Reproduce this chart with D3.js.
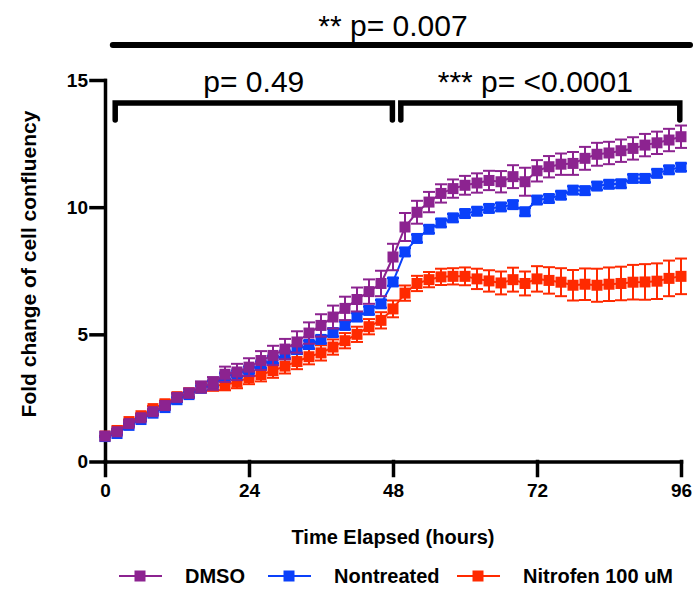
<!DOCTYPE html>
<html>
<head>
<meta charset="utf-8">
<script src="https://cdn.jsdelivr.net/npm/d3@7"></script>
<style>
  body { margin: 0; background: #fff; }
  .chart text { font-family: "Liberation Sans", Arial, Helvetica, sans-serif; }
</style>
</head>
<body>
<svg class="chart"></svg>
<script>
// Graphic dimensions
var width = 694;
var height = 590;

// hours 0..96, every 2 h
var hours = [0, 2, 4, 6, 8, 10, 12, 14, 16, 18, 20, 22, 24, 26, 28, 30, 32, 34, 36, 38, 40, 42, 44, 46, 48,
    50, 52, 54, 56, 58, 60, 62, 64, 66, 68, 70, 72, 74, 76, 78, 80, 82, 84, 86, 88, 90, 92, 94, 96];

var dmso = [1.0, 1.17, 1.49, 1.72, 1.96, 2.2, 2.52, 2.69, 2.93, 3.07, 3.43, 3.52, 3.71, 3.97, 4.17, 4.42, 4.7, 5.05, 5.35, 5.68, 6.02, 6.37, 6.68, 7.0, 8.04,
    9.22, 9.8, 10.2, 10.54, 10.73, 10.86, 10.95, 11.05, 11.0, 11.2, 11.0, 11.43, 11.59, 11.69, 11.72, 11.92, 12.08, 12.13, 12.22, 12.31, 12.44, 12.53, 12.64, 12.77];
var dmsoErr = [0, 0.05, 0.06, 0.08, 0.1, 0.12, 0.15, 0.18, 0.22, 0.25, 0.3, 0.32, 0.35, 0.37, 0.38, 0.4, 0.42, 0.42, 0.44, 0.45, 0.46, 0.47, 0.48, 0.5, 0.52,
    0.55, 0.45, 0.4, 0.36, 0.36, 0.37, 0.38, 0.38, 0.42, 0.45, 0.55, 0.42, 0.42, 0.42, 0.45, 0.45, 0.45, 0.44, 0.44, 0.44, 0.44, 0.44, 0.44, 0.44];

var nontreated = [0.98, 1.1, 1.42, 1.65, 1.9, 2.12, 2.43, 2.63, 2.88, 3.05, 3.35, 3.45, 3.6, 3.8, 4.0, 4.2, 4.4, 4.6, 4.8, 5.07, 5.35, 5.68, 5.94, 6.2, 7.06,
    8.24, 8.77, 9.13, 9.38, 9.58, 9.75, 9.84, 9.95, 10.01, 10.1, 9.82, 10.28, 10.34, 10.47, 10.67, 10.65, 10.83, 10.9, 10.92, 11.13, 11.13, 11.33, 11.47, 11.57];
var nontreatedErr = [0, 0.04, 0.05, 0.06, 0.07, 0.08, 0.09, 0.1, 0.1, 0.11, 0.12, 0.12, 0.13, 0.13, 0.14, 0.14, 0.15, 0.15, 0.15, 0.15, 0.15, 0.15, 0.15, 0.15, 0.15,
    0.15, 0.15, 0.15, 0.15, 0.15, 0.15, 0.15, 0.15, 0.15, 0.15, 0.15, 0.15, 0.15, 0.15, 0.15, 0.15, 0.15, 0.15, 0.15, 0.15, 0.15, 0.15, 0.15, 0.15];

var nitrofen = [1.0, 1.22, 1.57, 1.8, 2.08, 2.27, 2.55, 2.7, 2.9, 2.98, 3.02, 3.12, 3.3, 3.42, 3.57, 3.75, 3.93, 4.12, 4.27, 4.5, 4.75, 5.0, 5.3, 5.55, 6.0,
    6.62, 7.0, 7.15, 7.26, 7.28, 7.28, 7.18, 7.1, 7.02, 7.15, 7.0, 7.18, 7.12, 7.05, 6.93, 6.97, 6.93, 6.97, 7.0, 7.05, 7.06, 7.09, 7.2, 7.28];
var nitrofenErr = [0, 0.05, 0.06, 0.08, 0.1, 0.12, 0.14, 0.16, 0.18, 0.2, 0.22, 0.24, 0.26, 0.27, 0.28, 0.29, 0.3, 0.3, 0.3, 0.3, 0.3, 0.3, 0.3, 0.32, 0.33,
    0.3, 0.3, 0.3, 0.32, 0.32, 0.35, 0.4, 0.42, 0.45, 0.47, 0.47, 0.5, 0.52, 0.55, 0.6, 0.62, 0.65, 0.66, 0.66, 0.68, 0.7, 0.7, 0.7, 0.7];

var seriesNames = ["DMSO", "Nontreated", "Nitrofen 100 uM"];
var seriesColors = ["#8C2390", "#0A40FA", "#FF2A00"];
var xTicks = [0, 24, 48, 72, 96];
var yTicks = [0, 5, 10, 15];

// comparison brackets: [from hour, to hour, label]
var brackets = [[1.7, 47.9, "p= 0.49"], [49.3, 95.8, "*** p= <0.0001"]];
var topBracket = [1.3, 97.5, "** p= 0.007"];

var series = [
    {name: seriesNames[0], color: seriesColors[0], values: dmso, err: dmsoErr},
    {name: seriesNames[1], color: seriesColors[1], values: nontreated, err: nontreatedErr},
    {name: seriesNames[2], color: seriesColors[2], values: nitrofen, err: nitrofenErr}
];

var svg = d3.select(".chart")
    .attr("width", width)
    .attr("height", height);

var x = d3.scaleLinear().domain([0, 96]).range([105, 681]);
var y = d3.scaleLinear().domain([0, 15]).range([461.5, 80]);

// axes
var xAxis = d3.axisBottom(x).tickValues(xTicks).tickSize(14).tickSizeOuter(0).tickPadding(8);
var yAxis = d3.axisLeft(y).tickValues(yTicks).tickSize(14).tickSizeOuter(0).tickPadding(3);

var gx = svg.append("g")
    .attr("transform", "translate(0," + y(0) + ")")
    .call(xAxis);
var gy = svg.append("g")
    .attr("transform", "translate(" + x(0) + ",0)")
    .call(yAxis);

[gx, gy].forEach(function(g) {
    g.selectAll("path, line").attr("stroke", "#000").attr("stroke-width", 3.5).attr("stroke-linecap", "square");
    g.selectAll("text")
        .attr("fill", "#000")
        .style("font-size", "19px")
        .style("font-weight", "bold");
});

// axis labels
svg.append("text")
    .attr("x", 393)
    .attr("y", 544)
    .style("text-anchor", "middle")
    .style("font-size", "20px")
    .style("font-weight", "bold")
    .text("Time Elapsed (hours)");

svg.append("text")
    .attr("transform", "rotate(-90)")
    .attr("x", -264)
    .attr("y", 36)
    .style("text-anchor", "middle")
    .style("font-size", "21px")
    .style("font-weight", "bold")
    .text("Fold change of cell confluency");

// draw series back to front so DMSO sits on top
var line = d3.line()
    .x(function(d, i) { return x(hours[i]); })
    .y(function(d) { return y(d); });

var sq = 11;
var cap = 6;

series.slice().reverse().forEach(function(s) {
    var g = svg.append("g");

    g.append("path")
        .datum(s.values)
        .attr("fill", "none")
        .attr("stroke", s.color)
        .attr("stroke-width", 2)
        .attr("d", line);

    var eb = g.selectAll(".eb").data(s.values).enter().append("g");
    eb.append("line")
        .attr("x1", function(d, i) { return x(hours[i]); })
        .attr("x2", function(d, i) { return x(hours[i]); })
        .attr("y1", function(d, i) { return y(d + s.err[i]); })
        .attr("y2", function(d, i) { return y(d - s.err[i]); });
    eb.append("line")
        .attr("x1", function(d, i) { return x(hours[i]) - cap; })
        .attr("x2", function(d, i) { return x(hours[i]) + cap; })
        .attr("y1", function(d, i) { return y(d + s.err[i]); })
        .attr("y2", function(d, i) { return y(d + s.err[i]); });
    eb.append("line")
        .attr("x1", function(d, i) { return x(hours[i]) - cap; })
        .attr("x2", function(d, i) { return x(hours[i]) + cap; })
        .attr("y1", function(d, i) { return y(d - s.err[i]); })
        .attr("y2", function(d, i) { return y(d - s.err[i]); });
    eb.selectAll("line").attr("stroke", s.color).attr("stroke-width", 2);

    g.selectAll("rect").data(s.values).enter().append("rect")
        .attr("x", function(d, i) { return x(hours[i]) - sq / 2; })
        .attr("y", function(d) { return y(d) - sq / 2; })
        .attr("width", sq)
        .attr("height", sq)
        .attr("fill", s.color);
});

// significance brackets
brackets.forEach(function(b, i) {
    var x0 = x(b[0]), x1 = x(b[1]);
    svg.append("path")
        .attr("d", "M" + x0 + ",120V103H" + x1 + "V120")
        .attr("fill", "none")
        .attr("stroke", "#000")
        .attr("stroke-width", 5.5)
        .attr("stroke-linecap", "round")
        .attr("stroke-linejoin", "miter");
    svg.append("text")
        .attr("x", (x0 + x1) / 2 - (i === 1 ? 5 : 0))
        .attr("y", 92)
        .style("text-anchor", "middle")
        .style("font-size", "30px")
        .text(b[2]);
});

svg.append("line")
    .attr("x1", x(topBracket[0]))
    .attr("x2", x(topBracket[1]))
    .attr("y1", 45)
    .attr("y2", 45)
    .attr("stroke", "#000")
    .attr("stroke-width", 6)
    .attr("stroke-linecap", "round");
svg.append("text")
    .attr("x", x(48))
    .attr("y", 36)
    .style("text-anchor", "middle")
    .style("font-size", "30px")
    .text(topBracket[2]);

// legend
var legendX = [140, 289, 478];
var legend = svg.selectAll(".legend").data(series).enter().append("g")
    .attr("transform", function(d, i) { return "translate(" + legendX[i] + ",576)"; });
legend.append("line")
    .attr("x1", -21).attr("x2", 22)
    .attr("stroke", function(d) { return d.color; })
    .attr("stroke-width", 2);
legend.append("rect")
    .attr("x", -sq / 2).attr("y", -sq / 2)
    .attr("width", sq).attr("height", sq)
    .attr("fill", function(d) { return d.color; });
legend.append("text")
    .attr("x", 45)
    .attr("y", 7)
    .style("font-size", "20px")
    .style("font-weight", "bold")
    .text(function(d) { return d.name; });
</script>
</body>
</html>
